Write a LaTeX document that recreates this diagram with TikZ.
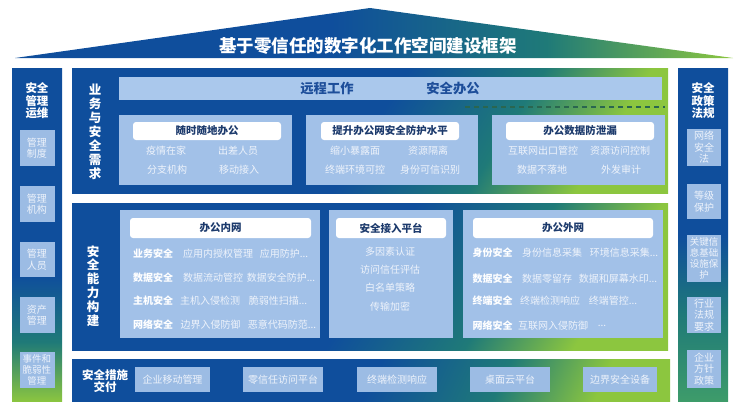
\documentclass[tikz,border=0pt]{standalone}
\usepackage{fontspec}
\setmainfont{Noto Sans CJK SC}
\definecolor{dkb}{HTML}{0F4E9C}
\definecolor{tealc}{HTML}{1F7A78}
\definecolor{grn}{HTML}{8CC63F}
\definecolor{rgrn}{HTML}{3E9C6A}
\definecolor{lpanel}{HTML}{A2C1E8}
\definecolor{banner}{HTML}{AAC8EC}
\definecolor{subbox}{HTML}{9CBCE4}
\definecolor{itemtxt}{HTML}{EEF3FB}
\definecolor{navy}{HTML}{1C3A6C}
\definecolor{bantxt}{HTML}{1D4E9A}
\definecolor{dashc}{HTML}{2A6650}
\pgfdeclarehorizontalshading{roofsh}{100bp}{color(0bp)=(dkb); color(47bp)=(dkb); color(62bp)=(tealc); color(75bp)=(grn); color(100bp)=(grn)}
\pgfdeclareverticalshading{colsh}{100bp}{color(0bp)=(grn); color(25bp)=(grn); color(34bp)=(tealc); color(44bp)=(dkb); color(100bp)=(dkb)}
\pgfdeclareverticalshading{rcolsh}{100bp}{color(0bp)=(rgrn); color(25bp)=(rgrn); color(38bp)=(tealc); color(50bp)=(dkb); color(100bp)=(dkb)}
\pgfdeclarehorizontalshading{panelsh}{100bp}{color(0bp)=(dkb); color(50bp)=(dkb); color(64bp)=(tealc); color(75bp)=(grn); color(100bp)=(grn)}
\tikzset{
  base/.style={inner sep=0pt, outer sep=0pt},
  shpanel/.style={base, shade, shading=panelsh, shading angle=#1},
  colbox/.style={base, shade, shading=colsh},
  lbox/.style={base, fill=lpanel},
  sbox/.style={base, fill=subbox, text=itemtxt, align=center, font=\fontsize{10}{11.5}\selectfont},
  pill/.style={base, fill=white, rounded corners=3pt, text=navy, font=\bfseries\fontsize{10.5}{12}\selectfont},
  item/.style={base, text=itemtxt, font=\fontsize{10}{12}\selectfont},
  blab/.style={base, text=white, font=\bfseries\fontsize{10}{12}\selectfont},
  vlab/.style={base, text=white, align=center, font=\bfseries\fontsize{12.5}{13.9}\selectfont},
  ctitle/.style={base, text=white, align=center, font=\bfseries\fontsize{11.5}{12.5}\selectfont},
  dbox/.style={base, fill=subbox, text=itemtxt, font=\fontsize{10}{12}\selectfont}
}
\begin{document}
\begin{tikzpicture}[x=1pt,y=-1pt]
\useasboundingbox (0,0) rectangle (740,402);
% roof
\shade[shading=roofsh] (15,58) -- (370,8) -- (733,58) -- cycle;
\node[base, text=white, font=\bfseries\fontsize{17.5}{19}\selectfont] (title) at (368,46) {基于零信任的数字化工作空间建设框架};
% left column
\node[colbox, minimum width=50pt, minimum height=334pt] (lcol) at (37,235) {};
\node[ctitle] (ltitle) at (37,101) {安全\\管理\\运维};
\node[sbox, minimum width=35pt, minimum height=36pt] (l1) at (37,148) {管理\\制度};
\node[sbox, minimum width=35pt, minimum height=36pt] (l2) at (37,204) {管理\\机构};
\node[sbox, minimum width=35pt, minimum height=35pt] (l3) at (37,259.5) {管理\\人员};
\node[sbox, minimum width=35pt, minimum height=36pt] (l4) at (37,315) {资产\\管理};
\node[sbox, minimum width=35pt, minimum height=36pt, font=\fontsize{9.5}{10.8}\selectfont] (l5) at (37,370) {事件和\\脆弱性\\管理};
% right column
\node[base, shade, shading=rcolsh, minimum width=50pt, minimum height=334pt] (rcol) at (703,235) {};
\node[ctitle] (rtitle) at (703,101) {安全\\政策\\法规};
\node[sbox, minimum width=34pt, minimum height=37pt] (r1) at (704,147.5) {网络\\安全\\法};
\node[sbox, minimum width=34pt, minimum height=35pt] (r2) at (704,201.5) {等级\\保护};
\node[sbox, minimum width=34pt, minimum height=47pt, font=\fontsize{9.5}{10.8}\selectfont] (r3) at (704,258.5) {关键信\\息基础\\设施保\\护};
\node[sbox, minimum width=34pt, minimum height=36pt] (r4) at (704,315) {行业\\法规\\要求};
\node[sbox, minimum width=34pt, minimum height=38pt] (r5) at (704,369) {企业\\方针\\政策};
% top panel
\node[shpanel=-32, minimum width=596pt, minimum height=125pt] (topP) at (370,130.5) {};
\node[vlab] (toplab) at (95,132) {业\\务\\与\\安\\全\\需\\求};
\node[base, fill=banner, minimum width=543pt, minimum height=23pt] (ban) at (390.5,88.5) {};
\node[base, text=bantxt, font=\bfseries\fontsize{13.3}{15}\selectfont] (ban1) at (327,88.5) {远程工作};
\node[base, text=bantxt, font=\bfseries\fontsize{13.3}{15}\selectfont] (ban2) at (453,88.5) {安全办公};
\coordinate (dashA) at (465,107);
\coordinate (dashB) at (665,107);
\draw[dashc, line width=1.4pt, dash pattern=on 5pt off 4pt] (dashA) -- (dashB);
\node[lbox, minimum width=173pt, minimum height=70pt] (p1) at (205.5,150) {};
\node[lbox, minimum width=172pt, minimum height=70pt] (p2) at (392,150) {};
\node[lbox, minimum width=173pt, minimum height=70pt] (p3) at (578.5,150) {};
\node[pill, minimum width=148pt, minimum height=18pt] (h1) at (207,131) {随时随地办公};
\node[pill, minimum width=138pt, minimum height=18pt] (h2) at (390,131) {提升办公网安全防护水平};
\node[pill, minimum width=148pt, minimum height=18pt] (h3) at (580,131) {办公数据防泄漏};
\node[item] (i11) at (166,151) {疫情在家};
\node[item] (i12) at (238,151) {出差人员};
\node[item] (i13) at (167,170) {分支机构};
\node[item] (i14) at (239,170) {移动接入};
\node[item] (i21) at (355,151) {缩小暴露面};
\node[item] (i22) at (428,151) {资源隔离};
\node[item] (i23) at (355,170) {终端环境可控};
\node[item] (i24) at (430,170) {身份可信识别};
\node[item] (i31) at (543,151) {互联网出口管控};
\node[item] (i32) at (620,151) {资源访问控制};
\node[item] (i33) at (542,170) {数据不落地};
\node[item] (i34) at (621,170) {外发审计};
% middle panel
\node[shpanel=-32, minimum width=596pt, minimum height=147pt] (midP) at (370,276.5) {};
\node[vlab] (midlab) at (93,286) {安\\全\\能\\力\\构\\建};
\node[lbox, minimum width=200pt, minimum height=128pt] (b1) at (220,274) {};
\node[lbox, minimum width=124pt, minimum height=128pt] (b2) at (391,274) {};
\node[lbox, minimum width=200pt, minimum height=128pt] (b3) at (563,274) {};
\node[pill, minimum width=181pt, minimum height=20pt] (bh1) at (220.5,228) {办公内网};
\node[pill, minimum width=110pt, minimum height=20pt] (bh2) at (391,228) {安全接入平台};
\node[pill, minimum width=180pt, minimum height=20pt] (bh3) at (563,228) {办公外网};
% inner network rows
\node[blab] (a1) at (153,254) {业务安全};
\node[item] (a1a) at (218,254) {应用内授权管理};
\node[item] (a1b) at (284,254) {应用防护...};
\node[blab] (a2) at (153,278) {数据安全};
\node[item] (a2a) at (213,278) {数据流动管控};
\node[item] (a2b) at (281,278) {数据安全防护...};
\node[blab] (a3) at (153,301) {主机安全};
\node[item] (a3a) at (210,301) {主机入侵检测};
\node[item] (a3b) at (278,301) {脆弱性扫描...};
\node[blab] (a4) at (153,325) {网络安全};
\node[item] (a4a) at (210.5,325) {边界入侵防御};
\node[item] (a4b) at (282,325) {恶意代码防范...};
% access platform
\node[item] (c1) at (390,252) {多因素认证};
\node[item] (c2) at (390,270) {访问信任评估};
\node[item] (c3) at (390,288) {白名单策略};
\node[item] (c4) at (390,307) {传输加密};
% outer network rows
\node[blab] (e1) at (492.5,253) {身份安全};
\node[item] (e1a) at (552,253) {身份信息采集};
\node[item] (e1b) at (624,253) {环境信息采集...};
\node[blab] (e2) at (492.5,279) {数据安全};
\node[item] (e2a) at (547,279) {数据零留存};
\node[item] (e2b) at (618,279) {数据和屏幕水印...};
\node[blab] (e3) at (492.5,301) {终端安全};
\node[item] (e3a) at (550,301) {终端检测响应};
\node[item] (e3b) at (613,301) {终端管控...};
\node[blab] (e4) at (492.5,326) {网络安全};
\node[item] (e4a) at (553,326) {互联网入侵防御};
\node[item] (e4b) at (602,326) {...};
% bottom panel
\node[shpanel=-25, minimum width=598pt, minimum height=43pt] (botP) at (371,380.5) {};
\node[ctitle] (botlab) at (105,381) {安全措施\\交付};
\node[dbox, minimum width=75pt, minimum height=25pt] (d1) at (172.5,379.5) {企业移动管理};
\node[dbox, minimum width=80pt, minimum height=25pt] (d2) at (283,379.5) {零信任访问平台};
\node[dbox, minimum width=80pt, minimum height=25pt] (d3) at (397,379.5) {终端检测响应};
\node[dbox, minimum width=80pt, minimum height=25pt] (d4) at (510,379.5) {桌面云平台};
\node[dbox, minimum width=74pt, minimum height=25pt] (d5) at (620,379.5) {边界安全设备};
\end{tikzpicture}
\end{document}
